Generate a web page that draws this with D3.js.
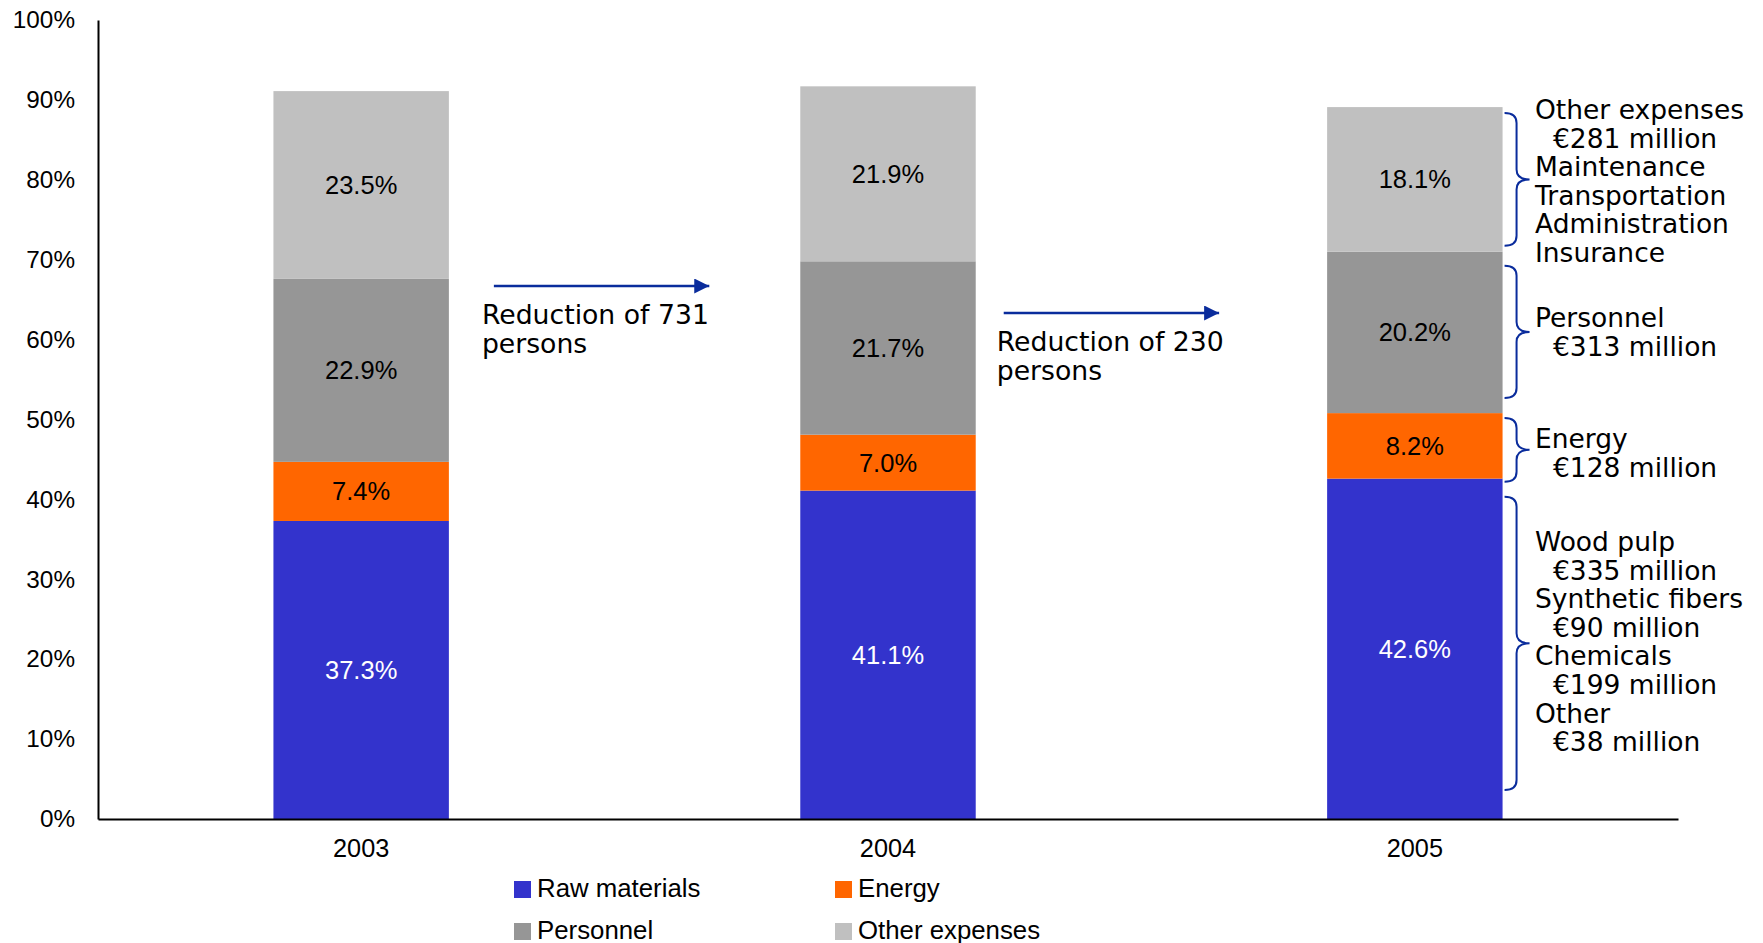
<!DOCTYPE html>
<html>
<head>
<meta charset="utf-8">
<script src="https://cdn.jsdelivr.net/npm/d3@7/dist/d3.min.js"></script>
<style>
  html, body { margin: 0; padding: 0; background: #ffffff; }
  svg { display: block; }
</style>
</head>
<body>
<svg id="chart" width="1763" height="943"></svg>
<script>
// Cost structure by year, share of sales (%)
const years = ["2003", "2004", "2005"];
const seriesNames = ["Raw materials", "Energy", "Personnel", "Other expenses"];
const rawMaterials = [37.3, 41.1, 42.6];
const energy = [7.4, 7.0, 8.2];
const personnel = [22.9, 21.7, 20.2];
const otherExpenses = [23.5, 21.9, 18.1];
const yTicks = [0, 10, 20, 30, 40, 50, 60, 70, 80, 90, 100];

// Headcount reductions between years
const reductions = [
  { from: "2003", to: "2004", lines: ["Reduction of 731", "persons"] },
  { from: "2004", to: "2005", lines: ["Reduction of 230", "persons"] }
];

// 2005 breakdown notes, one per stacked segment
const breakdown = [
  { series: "Other expenses", lines: [["Other expenses", 0], ["€281 million", 1], ["Maintenance", 0], ["Transportation", 0], ["Administration", 0], ["Insurance", 0]] },
  { series: "Personnel", lines: [["Personnel", 0], ["€313 million", 1]] },
  { series: "Energy", lines: [["Energy", 0], ["€128 million", 1]] },
  { series: "Raw materials", lines: [["Wood pulp", 0], ["€335 million", 1], ["Synthetic fibers", 0], ["€90 million", 1], ["Chemicals", 0], ["€199 million", 1], ["Other", 0], ["€38 million", 1]] }
];

const colors = {
  "Raw materials": "#3333CC",
  "Energy": "#FF6600",
  "Personnel": "#969696",
  "Other expenses": "#C0C0C0"
};
const labelColors = {
  "Raw materials": "#ffffff",
  "Energy": "#000000",
  "Personnel": "#000000",
  "Other expenses": "#000000"
};
const accent = "#0A2C9C";
const sansFont = "'Liberation Sans', Arial, sans-serif";
const noteFont = "'DejaVu Sans', Verdana, sans-serif";

const rows = years.map((yr, i) => ({
  year: yr,
  "Raw materials": rawMaterials[i],
  "Energy": energy[i],
  "Personnel": personnel[i],
  "Other expenses": otherExpenses[i]
}));

const svg = d3.select("#chart");
const plotLeft = 98, plotRight = 1678, plotTop = 20, plotBottom = 819;

const x = d3.scaleBand().domain(years).range([plotLeft, plotRight])
  .paddingInner(0.667).paddingOuter(0.333);
const y = d3.scaleLinear().domain([0, 100]).range([plotBottom, plotTop]);

const stacked = d3.stack().keys(seriesNames)(rows);

// Stacked bars
const layers = svg.append("g").selectAll("g")
  .data(stacked).join("g")
  .attr("fill", d => colors[d.key]);

layers.selectAll("rect")
  .data(d => d.map(p => ({ key: d.key, p })))
  .join("rect")
  .attr("x", d => x(d.p.data.year))
  .attr("width", x.bandwidth())
  .attr("y", d => y(d.p[1]))
  .attr("height", d => y(d.p[0]) - y(d.p[1]));

// Segment value labels
svg.append("g").selectAll("g")
  .data(stacked).join("g")
  .selectAll("text")
  .data(d => d.map(p => ({ key: d.key, p })))
  .join("text")
  .attr("x", d => x(d.p.data.year) + x.bandwidth() / 2)
  .attr("y", d => y((d.p[0] + d.p[1]) / 2))
  .attr("text-anchor", "middle")
  .attr("dominant-baseline", "central")
  .attr("font-family", sansFont)
  .attr("font-size", 25.5)
  .attr("fill", d => labelColors[d.key])
  .text(d => (d.p[1] - d.p[0]).toFixed(1) + "%");

// Y axis
const yAxis = svg.append("g")
  .attr("transform", `translate(${plotLeft},0)`)
  .call(d3.axisLeft(y).tickValues(yTicks).tickSize(0).tickPadding(23)
    .tickFormat(d => d + "%"));
yAxis.select(".domain").attr("stroke", "#000").attr("stroke-width", 2);
yAxis.selectAll("text")
  .attr("font-family", sansFont)
  .attr("font-size", 24.3)
  .attr("fill", "#000");

// X axis
const xAxis = svg.append("g")
  .attr("transform", `translate(0,${plotBottom})`)
  .call(d3.axisBottom(x).tickSize(0).tickPadding(20));
xAxis.select(".domain").attr("stroke", "#000").attr("stroke-width", 2);
xAxis.selectAll("text")
  .attr("font-family", sansFont)
  .attr("font-size", 25.3)
  .attr("fill", "#000");

// Reduction arrows between bars
const defs = svg.append("defs");
defs.append("marker")
  .attr("id", "arrowhead")
  .attr("viewBox", "0 0 10 10")
  .attr("refX", 10).attr("refY", 5)
  .attr("markerUnits", "userSpaceOnUse")
  .attr("markerWidth", 17).attr("markerHeight", 15)
  .attr("orient", "auto")
  .append("path").attr("d", "M0,0 L10,5 L0,10 Z").attr("fill", accent);

// arrow placement: [start offset after left bar, end offset before right bar, y, text shift]
const arrowLayout = [[45, 91, 286, -12], [28, 108, 313, -7]];
reductions.forEach((r, i) => {
  const [offA, offB, ay, tx] = arrowLayout[i];
  const x0 = x(r.from) + x.bandwidth() + offA;
  const x1 = x(r.to) - offB;
  const g = svg.append("g");
  g.append("line")
    .attr("x1", x0).attr("x2", x1)
    .attr("y1", ay).attr("y2", ay)
    .attr("stroke", accent).attr("stroke-width", 2.6)
    .attr("marker-end", "url(#arrowhead)");
  const t = g.append("text")
    .attr("font-family", noteFont)
    .attr("font-size", 26.7)
    .attr("fill", "#000");
  r.lines.forEach((ln, j) => {
    t.append("tspan")
      .attr("x", x0 + tx)
      .attr("y", ay + 38 + j * 28.5)
      .text(ln);
  });
});

// Braces and breakdown notes for 2005
const last = stacked.map(s => ({ key: s.key, lo: s[2][0], hi: s[2][1] }));
const braceInset = {
  "Other expenses": [6, 6],
  "Personnel": [14, 15],
  "Energy": [5, -3],
  "Raw materials": [18, 29]
};
const bx0 = x("2005") + x.bandwidth() + 2;
const bx1 = bx0 + 12;
const bxt = bx0 + 25;
const textX = 1535;
const lineH = 28.6;

function bracePath(y0, y1) {
  const ym = (y0 + y1) / 2, r = 10;
  return `M${bx0},${y0} Q${bx1},${y0} ${bx1},${y0 + r} L${bx1},${ym - r} ` +
    `Q${bx1},${ym} ${bxt},${ym} Q${bx1},${ym} ${bx1},${ym + r} ` +
    `L${bx1},${y1 - r} Q${bx1},${y1} ${bx0},${y1}`;
}

const noteTop = {
  "Other expenses": 119,
  "Personnel": 327,
  "Energy": 448,
  "Raw materials": 551
};

breakdown.forEach(b => {
  const seg = last.find(s => s.key === b.series);
  const ins = braceInset[b.series];
  const y0 = y(seg.hi) + ins[0];
  const y1 = y(seg.lo) - ins[1];
  svg.append("path")
    .attr("d", bracePath(y0, y1))
    .attr("fill", "none")
    .attr("stroke", accent)
    .attr("stroke-width", 2);
  const t = svg.append("text")
    .attr("font-family", noteFont)
    .attr("font-size", 26.5)
    .attr("fill", "#000");
  b.lines.forEach(([ln, indent], j) => {
    t.append("tspan")
      .attr("x", textX + indent * 18)
      .attr("y", noteTop[b.series] + j * lineH)
      .text(ln);
  });
});

// Legend
const legendCols = [514, 835];
const legendRows = [881, 923];
const legend = svg.append("g");
seriesNames.forEach((name, i) => {
  const lx = legendCols[i % 2];
  const ly = legendRows[Math.floor(i / 2)];
  legend.append("rect")
    .attr("x", lx).attr("y", ly)
    .attr("width", 17).attr("height", 17)
    .attr("fill", colors[name]);
  legend.append("text")
    .attr("x", lx + 23).attr("y", ly + 16)
    .attr("font-family", sansFont)
    .attr("font-size", 25.8)
    .attr("fill", "#000")
    .text(name);
});
</script>
</body>
</html>
